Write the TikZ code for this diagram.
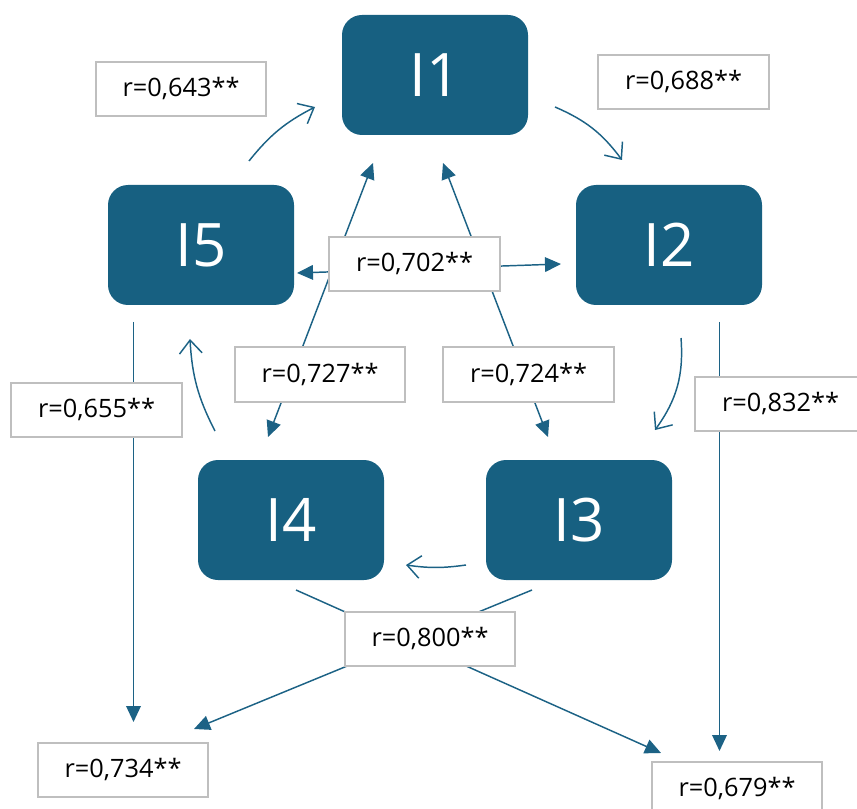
\documentclass[tikz,border=0pt]{standalone}
\usepackage{fontspec}
\setmainfont{Open Sans}
\usetikzlibrary{arrows.meta}
\definecolor{boxblue}{RGB}{23,96,129}
\definecolor{lblgray}{RGB}{191,191,191}
\definecolor{linkblue}{RGB}{28,98,133}
\tikzset{
  ibox/.style={fill=boxblue, rounded corners=15pt, minimum width=139.5pt, minimum height=90pt,
    inner sep=0pt, text=white, font=\fontsize{45}{45}\selectfont},
  rlabel/.style={draw=lblgray, line width=1.5pt, fill=white, minimum width=128pt,
    minimum height=40.5pt, inner sep=0pt, font=\fontsize{19}{22}\selectfont},
  solidlink/.style={draw=linkblue, line width=1.1pt},
  headend/.style={-{Triangle[length=12pt,width=11pt]}},
  bothends/.style={{Triangle[length=12pt,width=11pt]}-{Triangle[length=12pt,width=11pt]}},
  cyc/.style={draw=linkblue, line width=1.1pt, -{Straight Barb[length=10pt,width=17pt]}},
}
\begin{document}
\begin{tikzpicture}[x=0.75pt,y=0.75pt]
\useasboundingbox (0,0) rectangle (857,-809);
\clip (0,0) rectangle (857,-809);

% main boxes
\node[ibox] (I1) at (435,-75) {I1};
\node[ibox] (I2) at (669,-245) {I2};
\node[ibox] (I5) at (201,-245) {I5};
\node[ibox] (I4) at (291,-520) {I4};
\node[ibox] (I3) at (579,-520) {I3};

% free ends
\coordinate (a1) at (373,-163);  \coordinate (a4) at (268,-437);
\coordinate (b1) at (443,-163);  \coordinate (b3) at (548,-437);
\coordinate (h5) at (297,-273);  \coordinate (h2) at (561,-264);
\coordinate (v5s) at (133.5,-322); \coordinate (v5e) at (133.5,-722);
\coordinate (v2s) at (719.5,-322); \coordinate (v2e) at (719.5,-751);
\coordinate (d4s) at (296,-590); \coordinate (d4e) at (661,-753);
\coordinate (d3s) at (532,-590); \coordinate (d3e) at (194,-729);

\coordinate (c51s) at (249,-161); \coordinate (c51e) at (315,-107);
\coordinate (c12s) at (555,-107); \coordinate (c12e) at (622,-160);
\coordinate (c23s) at (681,-338); \coordinate (c23e) at (655,-430);
\coordinate (c34s) at (466,-565); \coordinate (c34e) at (406,-565);
\coordinate (c45s) at (215,-431); \coordinate (c45e) at (190,-339);

% straight connectors
\draw[solidlink,bothends] (a1) -- (a4);
\draw[solidlink,bothends] (b1) -- (b3);
\draw[solidlink,bothends] (h5) -- (h2);
\draw[solidlink,headend] (v5s) -- (v5e);
\draw[solidlink,headend] (v2s) -- (v2e);
\draw[solidlink,headend] (d4s) -- (d4e);
\draw[solidlink,headend] (d3s) -- (d3e);

% cycle arrows
\draw[cyc] (c51s) to[bend left=12] (c51e);
\draw[cyc] (c12s) to[bend left=15] (c12e);
\draw[cyc] (c23s) to[bend left=20] (c23e);
\draw[cyc] (c34s) to[bend left=8] (c34e);
\draw[cyc] (c45s) to[bend left=12] (c45e);

% labels
\node[rlabel] (r643) at (181,-89) {r=0,643**};
\node[rlabel] (r688) at (683.5,-82) {r=0,688**};
\node[rlabel] (r702) at (414.5,-264) {r=0,702**};
\node[rlabel] (r727) at (320,-374.5) {r=0,727**};
\node[rlabel] (r724) at (528.5,-374.5) {r=0,724**};
\node[rlabel] (r655) at (96.5,-410) {r=0,655**};
\node[rlabel] (r832) at (780.5,-404) {r=0,832**};
\node[rlabel] (r800) at (430,-639) {r=0,800**};
\node[rlabel] (r734) at (123,-770) {r=0,734**};
\node[rlabel] (r679) at (737,-789) {r=0,679**};
\end{tikzpicture}
\end{document}
